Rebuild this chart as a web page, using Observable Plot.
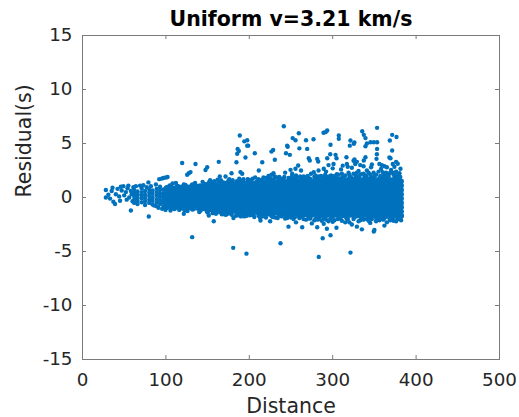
<!DOCTYPE html>
<html><head><meta charset="utf-8">
<script src="https://cdn.jsdelivr.net/npm/d3@7"></script>
<script src="https://cdn.jsdelivr.net/npm/@observablehq/plot@0.6"></script>
<style>body{margin:0;background:#fff;}</style>
</head><body><div id="chart"></div>
<script>
const title = "Uniform v=3.21 km/s";
const xLabel = "Distance";
const yLabel = "Residual(s)";
const xTicks = [0, 100, 200, 300, 400, 500];
const yTicks = [-15, -10, -5, 0, 5, 10, 15];

// dense core of the cloud: distance columns and residuals read at each
const coreDistance = [62,66,71,75,80,84,89,93,97,101,105,110,114,119,123,128,132,137,141,146,150,155,159,164,168,173,177,182,186,191,195,200,204,209,213,218,222,227,231,236,240,245,249,254,258,263,267,272,276,281,285,290,294,299,303,308,312,317,321,326,330,335,339,344,348,353,357,362,366,371,375,379,382];
const coreResidual = [
[-0.5,-0.2,0.1,0.4,0.7],
[-0.6,-0.3,0.0,0.3,0.55],
[-0.45,-0.1,0.2,0.5,0.85],
[-0.7,-0.35,-0.05,0.25,0.6],
[-0.5,-0.2,0.15,0.45,0.75],
[-0.65,-0.3,0.0,0.35,0.65],
[-0.8,-0.45,-0.15,0.2,0.5,0.8],
[-0.6,-0.3,0.05,0.35,0.7,1.0],
[-0.85,-0.5,-0.2,0.1,0.4,0.75],
[-0.9,-0.6,-0.3,0.0,0.3,0.6,0.9],
[-0.8,-0.45,-0.15,0.15,0.45,0.75,1.05],
[-1.0,-0.7,-0.35,-0.05,0.25,0.55,0.85],
[-0.85,-0.55,-0.2,0.1,0.4,0.7,1.0],
[-0.95,-0.65,-0.3,0.0,0.3,0.6,0.95],
[-1.1,-0.75,-0.45,-0.15,0.15,0.45,0.8,1.1],
[-0.9,-0.6,-0.3,0.05,0.35,0.65,0.95],
[-1.05,-0.7,-0.4,-0.1,0.2,0.5,0.85,1.15],
[-0.95,-0.6,-0.25,0.05,0.35,0.7,1.0],
[-1.15,-0.8,-0.5,-0.2,0.1,0.4,0.75,1.05],
[-1.0,-0.7,-0.35,-0.05,0.25,0.55,0.9,1.2],
[-1.25,-0.9,-0.6,-0.3,0.0,0.3,0.6,0.9,1.2],
[-1.1,-0.8,-0.45,-0.15,0.15,0.45,0.75,1.05,1.35],
[-1.3,-0.95,-0.65,-0.35,-0.05,0.25,0.55,0.9,1.2],
[-1.15,-0.85,-0.5,-0.2,0.1,0.4,0.7,1.0,1.3],
[-1.35,-1.0,-0.7,-0.4,-0.1,0.2,0.5,0.85,1.15],
[-1.2,-0.9,-0.55,-0.25,0.05,0.35,0.65,0.95,1.3],
[-1.4,-1.05,-0.75,-0.45,-0.15,0.15,0.45,0.8,1.1,1.4],
[-1.25,-0.95,-0.6,-0.3,0.0,0.3,0.6,0.9,1.25],
[-1.45,-1.1,-0.8,-0.5,-0.2,0.1,0.4,0.7,1.05,1.35],
[-1.3,-1.0,-0.65,-0.35,-0.05,0.25,0.55,0.85,1.2,1.5],
[-1.5,-1.15,-0.85,-0.55,-0.25,0.05,0.35,0.65,1.0,1.3],
[-1.4,-1.05,-0.7,-0.4,-0.1,0.2,0.5,0.8,1.1,1.45],
[-1.55,-1.2,-0.9,-0.6,-0.3,0.0,0.3,0.6,0.95,1.3],
[-1.35,-1.05,-0.75,-0.45,-0.15,0.15,0.45,0.75,1.05,1.4],
[-1.6,-1.25,-0.9,-0.6,-0.3,0.0,0.3,0.65,0.95,1.25,1.55],
[-1.45,-1.1,-0.8,-0.5,-0.2,0.1,0.4,0.7,1.0,1.35],
[-1.5,-1.2,-0.85,-0.55,-0.25,0.05,0.35,0.65,1.0,1.3,1.6],
[-1.65,-1.3,-1.0,-0.7,-0.4,-0.1,0.2,0.5,0.8,1.15,1.45],
[-1.4,-1.1,-0.8,-0.45,-0.15,0.15,0.45,0.75,1.05,1.4],
[-1.6,-1.25,-0.95,-0.65,-0.35,-0.05,0.25,0.55,0.9,1.2,1.55],
[-1.5,-1.15,-0.85,-0.5,-0.2,0.1,0.4,0.7,1.0,1.35,1.65],
[-1.7,-1.35,-1.05,-0.75,-0.45,-0.15,0.15,0.45,0.8,1.1,1.45],
[-1.55,-1.2,-0.9,-0.6,-0.3,0.0,0.3,0.6,0.95,1.25,1.6],
[-1.75,-1.4,-1.1,-0.8,-0.5,-0.2,0.1,0.4,0.7,1.0,1.35,1.7],
[-1.6,-1.3,-0.95,-0.65,-0.35,-0.05,0.25,0.55,0.85,1.2,1.5],
[-1.7,-1.35,-1.05,-0.75,-0.45,-0.15,0.15,0.5,0.8,1.1,1.45,1.75],
[-1.55,-1.25,-0.9,-0.6,-0.3,0.0,0.3,0.6,0.95,1.25,1.6],
[-1.8,-1.45,-1.15,-0.85,-0.55,-0.2,0.1,0.4,0.7,1.05,1.35,1.7],
[-1.6,-1.3,-1.0,-0.7,-0.4,-0.1,0.2,0.5,0.85,1.15,1.5],
[-1.75,-1.4,-1.1,-0.8,-0.45,-0.15,0.15,0.45,0.75,1.1,1.4,1.75],
[-1.65,-1.3,-1.0,-0.65,-0.35,-0.05,0.3,0.6,0.9,1.25,1.55],
[-1.85,-1.5,-1.2,-0.9,-0.6,-0.25,0.05,0.35,0.7,1.0,1.3,1.65],
[-1.6,-1.25,-0.95,-0.65,-0.3,0.0,0.3,0.6,0.9,1.2,1.55,1.85],
[-1.75,-1.45,-1.1,-0.8,-0.5,-0.2,0.15,0.45,0.75,1.05,1.4,1.7],
[-1.6,-1.3,-1.0,-0.7,-0.35,-0.05,0.25,0.55,0.9,1.2,1.5,1.8],
[-1.8,-1.5,-1.15,-0.85,-0.55,-0.25,0.1,0.4,0.7,1.0,1.35,1.65],
[-1.65,-1.35,-1.0,-0.7,-0.4,-0.1,0.2,0.55,0.85,1.15,1.45,1.8],
[-1.85,-1.5,-1.2,-0.9,-0.55,-0.25,0.05,0.35,0.65,1.0,1.3,1.6],
[-1.6,-1.3,-1.0,-0.65,-0.35,-0.05,0.3,0.6,0.9,1.25,1.55,1.85],
[-1.75,-1.45,-1.1,-0.8,-0.5,-0.2,0.1,0.45,0.75,1.05,1.35,1.7],
[-1.65,-1.35,-1.05,-0.7,-0.4,-0.1,0.2,0.5,0.85,1.15,1.5,1.8],
[-1.85,-1.5,-1.2,-0.9,-0.6,-0.25,0.05,0.35,0.65,1.0,1.3,1.6],
[-1.6,-1.3,-1.0,-0.7,-0.35,-0.05,0.25,0.55,0.9,1.2,1.55,1.9],
[-1.8,-1.45,-1.15,-0.85,-0.55,-0.2,0.1,0.4,0.7,1.05,1.35,1.7],
[-1.65,-1.35,-1.05,-0.75,-0.4,-0.1,0.2,0.5,0.8,1.15,1.45,1.8],
[-1.9,-1.55,-1.25,-0.9,-0.6,-0.3,0.0,0.35,0.65,0.95,1.25,1.6],
[-1.7,-1.4,-1.1,-0.75,-0.45,-0.15,0.15,0.45,0.8,1.1,1.4,1.75],
[-1.8,-1.5,-1.2,-0.85,-0.55,-0.25,0.05,0.4,0.7,1.0,1.3,1.65],
[-1.65,-1.35,-1.0,-0.7,-0.4,-0.1,0.2,0.5,0.85,1.15,1.5,1.85],
[-1.85,-1.55,-1.2,-0.9,-0.6,-0.3,0.0,0.3,0.65,0.95,1.25,1.6],
[-1.7,-1.4,-1.05,-0.75,-0.45,-0.15,0.15,0.5,0.8,1.1,1.45,1.8],
[-1.8,-1.45,-1.1,-0.8,-0.5,-0.2,0.1,0.4,0.75,1.1,1.4,1.7],
[-1.7,-1.3,-0.9,-0.5,-0.1,0.3,0.7,1.1,1.5]
];

// sparse points: left end, fringes and outliers [distance, residual]
const sparsePoints = [
[28,0.7],[28,0.0],[31,0.25],[33,-0.1],[35,0.6],[36,0.9],[37,-0.4],[39,-0.6],[40,0.3],[42,0.8],[44,0.1],[45,-0.3],[46,1.0],[47,0.65],[49,1.05],[50,0.2],[52,0.5],[53,-0.2],[54,0.85],[55,1.1],[56,0.0],[58,-1.2],[58,0.6],[59,0.3],[60,-0.35],[61,0.95],[64,1.05],[69,1.1],[73,1.15],[77,0.95],[79,1.4],[79.5,-1.76],[82,1.05],[86,-0.75],[88,1.2],[92,1.7],[95,1.75],[97,1.8],[100,1.85],[102,1.9],[91,-0.95],[95.5,-1.05],[99.5,-1.15],[105.5,-1.2],[108,1.3],[112,1.35],[116,-1.15],[121.5,-1.5],[121.5,1.2],[126,-1.25],[135,1.35],[140,-1.35],[144,1.45],[151.4,-1.67],[153,1.6],[160,-1.5],[166,1.6],[170,-1.55],[176,1.7],[184,-1.7],[188,1.75],[194,-1.75],[198,1.7],
[119.5,3.2],[135.5,3.1],[125.5,2.1],[127.5,2.25],[129.5,2.35],[147.5,2.55],[149.5,2.8],[163.4,3.3],[178.7,2.25],[164.6,1.95],[171.5,1.95],[188.6,5.74],[194,5.2],[197.5,4.8],[185.5,4.05],[187.4,4.3],[186,4.5],[184.6,3.27],[189.4,2.35],[191.5,2.2],[195.4,3.7],[197.5,5.3],[198.7,4.8],[206.6,4.1],[211.4,2.5],[215.5,3.27],[226.6,4.25],[228.6,4.4],[226.6,2.1],[230.6,1.94],[230.6,3.5],[229,2.25],[241.4,6.6],[245.4,4.8],[244,4.1],[248.6,3.95],[246,4.7],[249.4,2.56],[251.4,2.2],[252,5.5],[255.4,5.3],[255.4,2.66],[258.6,2.96],[259.4,5.95],[260,4.55],[262,2.5],[268,5.3],[269.4,4.5],[271.3,3.64],[272.5,3.43],[277,5.4],[277.3,2.34],[279.4,2.04],[281.4,3.58],[282.6,3.33],[283,2.5],[289,6.0],[289.3,2.66],[291.4,6.05],[293.4,6.2],[293.4,3.64],[297.4,4.88],[297,4.0],[303.4,3.95],[304.6,3.64],[307.3,5.74],[307.3,5.43],[316.5,3.73],[317,3.1],[321.3,5.28],[320.5,4.8],[325.3,4.97],[326,5.1],[326.1,3.52],[325,3.4],[327,3.1],[329,3.3],[335.4,6.14],[337.3,5.8],[339.3,5.5],[339.3,4.75],[337.3,3.43],[339.3,3.73],[337,2.9],[341,2.5],[341,5.0],[345.3,5.12],[349.3,5.12],[353.2,6.45],[353.3,5.12],[353.2,4.5],[352.5,3.58],[353,4.0],[359,3.0],[365,2.8],[368.5,5.28],[368,3.7],[369.3,3.64],[371.3,5.8],[371.3,4.35],[376.5,5.6],[376,3.3],[378,3.12],[381.3,2.66],
[204,1.75],[217,1.85],[223,2.0],[236,1.9],[243,2.3],[256,2.05],[265,1.95],[274,2.2],[286,2.0],[292,2.4],[296,1.95],[300,2.7],[305,2.15],[310,2.6],[313,1.95],[319,2.3],[323,2.75],[328,2.0],[331,2.45],[334,2.15],[343,2.3],[346,2.8],[350,2.0],[355,2.4],[358,2.65],[361,2.05],[364,2.3],[367,2.0],[370,2.55],[373,2.1],[376,2.4],[379,2.0],[380,2.25],[295,3.0],[301,3.1],[312,2.95],[318,2.85],[333,3.0],[347,3.05],[356,3.1],[362,2.9],[372,3.1],[374,2.85],
[152,1.45],[158,1.5],[162,1.65],[169,1.4],[175,1.55],[180,1.6],[185,1.5],[193,1.7],[199,1.65],[202,1.6],[207,1.85],[211,1.7],[215,1.6],[220,1.8],[225,1.75],[229,1.7],[233,1.85],[238,1.75],[242,1.9],[247,1.8],[251,1.95],[257,1.85],[261,1.95],[266,1.9],[270,2.0],[278,1.9],[283,1.95],[288,1.9],[291,2.1],[298,2.05],[302,2.0],[307,2.1],[311,2.2],[315,2.05],[320,2.1],[325,2.2],[329,2.3],[332,2.0],[337,2.2],[340,2.05],[345,2.1],[349,2.3],[352,2.1],[357,2.0],[360,2.35],[365,2.05],[368,2.25],[372,2.3],[377,2.1],[381,1.9],
[131.5,-3.67],[157.4,-2.2],[180.7,-4.66],[196.6,-5.2],[181,-1.9],[213.4,-2.13],[237.4,-4.23],[245.4,-1.9],[247,-2.7],[263.4,-2.75],[281.4,-2.75],[283.3,-5.5],[288,-3.77],[289.3,-2.44],[293,-2.9],[297.4,-3.5],[304.5,-2.8],[321.3,-5.1],[329,-2.7],[335,-2.95],[349.3,-3.15],[350,-3.0],[213,-1.9],[231,-1.85],[265,-2.0],[271,-1.95],[282,-2.05],[297,-2.0],[309,-1.95],[315,-2.3],[333,-2.1],[341,-2.0],[359,-2.0],[369,-2.1],[381,-1.9],[383,-1.7],[172,-1.6],[190,-1.75],[225,-2.2],[256,-2.3],[275,-2.4],[300,-2.25],[323,-2.5],[345,-2.35],[362,-2.6],[376,-2.2],
[150,-1.4],[156,-1.45],[163,-1.35],[167,-1.55],[174,-1.5],[179,-1.6],[187,-1.65],[192,-1.6],[197,-1.7],[201,-1.65],[206,-1.8],[211,-1.7],[216,-1.75],[220,-1.85],[228,-1.8],[234,-1.9],[239,-1.75],[243,-1.95],[250,-1.85],[253,-2.0],[260,-1.9],[268,-2.05],[273,-1.95],[278,-2.1],[284,-2.0],[287,-2.15],[292,-2.05],[295,-2.2],[302,-2.1],[306,-2.0],[311,-2.15],[318,-2.05],[320,-2.3],[325,-2.0],[331,-2.2],[337,-2.05],[343,-2.15],[347,-2.0],[352,-2.2],[356,-2.1],[361,-2.05],[365,-2.3],[368,-1.95],[373,-2.15],[378,-2.0],[382,-2.1]
];

const allCore = coreDistance.flatMap((d, i) => coreResidual[i].map(r => ({d, r})));
const denseCore = allCore.filter(p => p.d >= 100);
const sparse = allCore.filter(p => p.d < 100).concat(sparsePoints.map(([d, r]) => ({d, r})));

const W = 519, H = 417, mL = 82, mR = 20, mT = 35, mB = 58;
const plotH = H - mT - mB, plotW = W - mL - mR;
const axisColor = "#262626";
const lineColor = "#7a7a7a";
const dotColor = "#0072BD";

const chart = Plot.plot({
  width: W, height: H,
  marginLeft: mL, marginRight: mR, marginTop: mT, marginBottom: mB,
  style: {fontFamily: "DejaVu Sans", color: axisColor, background: "#fff"},
  x: {domain: [0, 500]},
  y: {domain: [-15, 15]},
  marks: [
    Plot.dot(denseCore, {x: "d", y: "r", r: 2.85, fill: dotColor, stroke: "none"}),
    Plot.dot(sparse, {x: "d", y: "r", r: 2.2, fill: dotColor, stroke: "none"}),
    Plot.frame({stroke: lineColor, strokeWidth: 1}),
    Plot.ruleX(xTicks, {x: d => d, insetTop: plotH - 4, stroke: lineColor}),
    Plot.ruleX(xTicks, {x: d => d, insetBottom: plotH - 4, stroke: lineColor}),
    Plot.ruleY(yTicks, {y: d => d, insetRight: plotW - 4, stroke: lineColor}),
    Plot.ruleY(yTicks, {y: d => d, insetLeft: plotW - 4, stroke: lineColor}),
    Plot.axisX({ticks: xTicks, tickSize: 0, tickPadding: 13, fontSize: 18.3, label: null, tickFormat: d => String(d)}),
    Plot.axisY({ticks: yTicks, tickSize: 0, tickPadding: 10, fontSize: 18.3, label: null, tickFormat: d => String(d)}),
    Plot.text([xLabel], {text: d => d, frameAnchor: "bottom", dy: 46.5, lineAnchor: "middle", fontSize: 20.5, fill: axisColor}),
    Plot.text([yLabel], {text: d => d, frameAnchor: "left", rotate: -90, dx: -58, lineAnchor: "middle", fontSize: 20.5, fill: axisColor}),
    Plot.text([title], {text: d => d, frameAnchor: "top", dy: -15.6, lineAnchor: "middle", fontSize: 20.5, fontWeight: "bold", fill: "#000"})
  ]
});
document.getElementById("chart").appendChild(chart);
</script>
</body></html>
